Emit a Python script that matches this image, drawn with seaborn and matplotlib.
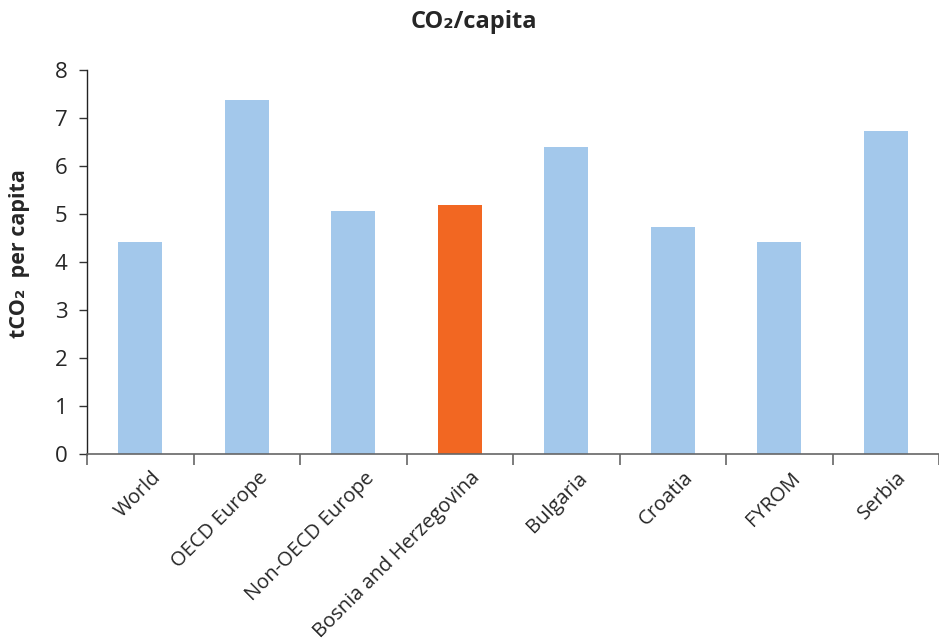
import numpy as np
import pandas as pd
import matplotlib
matplotlib.use("Agg")
import matplotlib.pyplot as plt
import seaborn as sns

# Data
categories = ["World", "OECD Europe", "Non-OECD Europe", "Bosnia and Herzegovina",
              "Bulgaria", "Croatia", "FYROM", "Serbia"]
co2_per_capita = [4.42, 7.37, 5.06, 5.19, 6.40, 4.73, 4.42, 6.73]
highlight = ["other", "other", "other", "focus", "other", "other", "other", "other"]
y_ticks = [0, 1, 2, 3, 4, 5, 6, 7, 8]

colors = {"other": "#A3C8EB", "focus": "#F26722"}

sns.set_theme(style="white")
plt.rcParams["font.family"] = ["Open Sans", "DejaVu Sans"]

df = pd.DataFrame({"category": categories, "value": co2_per_capita, "group": highlight})

fig = plt.figure(figsize=(9.39, 6.42), dpi=100)
ax = fig.add_axes([0.0927, 0.2928, 0.9073, 0.598])

sns.barplot(data=df, x="category", y="value", hue="group", palette=colors,
            order=categories, dodge=False, width=0.41, legend=False,
            saturation=1, linewidth=0, ax=ax)

ax.set_ylim(0, 8)
ax.set_xlim(-0.5, len(categories) - 0.5)
ax.set_yticks(y_ticks)
ax.set_yticklabels([str(t) for t in y_ticks], fontsize=16)

# Category labels slightly right of bar centres, tick marks between categories
label_pos = np.arange(len(categories)) + 0.1
ax.set_xticks(label_pos)
ax.set_xticklabels(categories, rotation=45, ha="right", rotation_mode="anchor",
                   fontsize=14.5)
ax.set_xticks(np.arange(-0.5, len(categories), 1), minor=True)
ax.tick_params(axis="x", which="major", length=0, pad=10)
ax.tick_params(axis="x", which="minor", length=8, width=1.2, color="#666666",
               direction="out", bottom=True)
ax.tick_params(axis="y", length=6, width=1, color="#333333", direction="out",
               left=True, pad=8)

for side in ["top", "right"]:
    ax.spines[side].set_visible(False)
ax.spines["left"].set_color("#222222")
ax.spines["left"].set_linewidth(1)
ax.spines["bottom"].set_color("#666666")
ax.spines["bottom"].set_linewidth(1.2)

ax.set_xlabel("")
ax.set_ylabel("tCO\u2082  per capita", fontsize=15.5, fontweight="bold")
ax.yaxis.set_label_coords(-0.067, 0.523)
fig.text(0.505, 0.966, "CO\u2082/capita", ha="center", va="center",
         fontsize=17, fontweight="bold")

fig.savefig("out.png", dpi=100, facecolor="white")
